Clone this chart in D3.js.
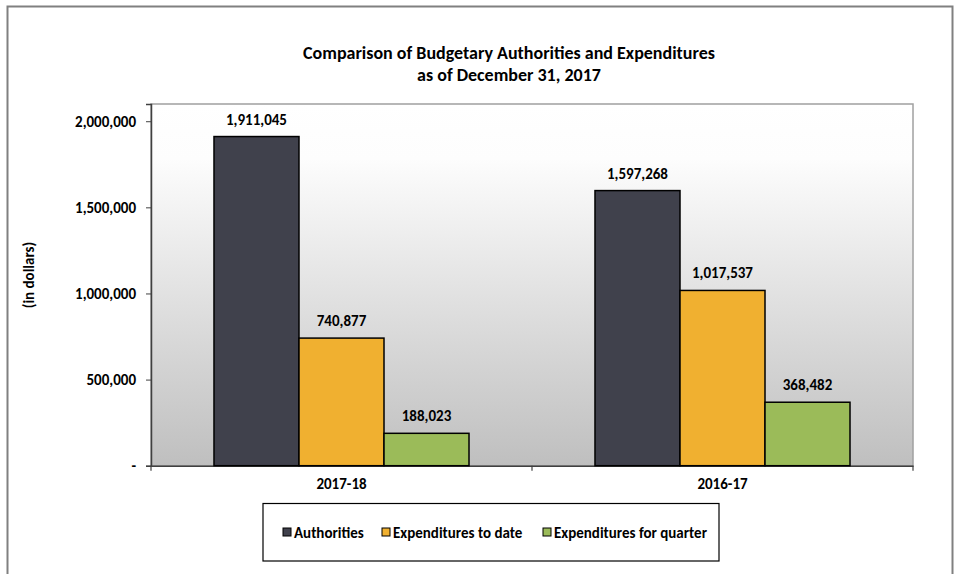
<!DOCTYPE html>
<html>
<head>
<meta charset="utf-8">
<script src="https://cdn.jsdelivr.net/npm/d3@7"></script>
<style>
  body { margin: 0; background: #fff; }
  text { font-family: Calibri, Carlito, Lato, "Liberation Sans", sans-serif; font-weight: bold; fill: #000; }
</style>
</head>
<body>
<div id="chart"></div>
<script>
// Данные графика
const categories = ['2017-18', '2016-17'];
const seriesNames = ['Authorities', 'Expenditures to date', 'Expenditures for quarter'];
const authorities = [1911045, 1597268];
const expendituresToDate = [740877, 1017537];
const expendituresForQuarter = [188023, 368482];
const yTicks = [0, 500000, 1000000, 1500000, 2000000];
const colors = ['#40414c', '#f0b030', '#9bbb59'];

const W = 963, H = 574;
const svg = d3.select('#chart').append('svg')
    .attr('width', W)
    .attr('height', H);

// Внешняя рамка
svg.append('rect')
    .attr('x', 7.5).attr('y', 6.5)
    .attr('width', 945).attr('height', 600)
    .attr('fill', 'none')
    .attr('stroke', '#808080')
    .attr('stroke-width', 2);

// Заголовок
svg.append('text')
    .attr('x', 509).attr('y', 59)
    .attr('text-anchor', 'middle')
    .attr('font-size', '18px')
    .text('Comparison of Budgetary Authorities and Expenditures');
svg.append('text')
    .attr('x', 509).attr('y', 81)
    .attr('text-anchor', 'middle')
    .attr('font-size', '18px')
    .text('as of December 31, 2017');

const plot = { left: 151, top: 104, right: 913, bottom: 465.7 };

const defs = svg.append('defs');
const grad = defs.append('linearGradient')
    .attr('id', 'bg')
    .attr('x1', 0).attr('y1', 0).attr('x2', 0).attr('y2', 1);
grad.append('stop').attr('offset', '0%').attr('stop-color', '#ffffff');
grad.append('stop').attr('offset', '15%').attr('stop-color', '#fdfdfd');
grad.append('stop').attr('offset', '100%').attr('stop-color', '#bfbfbf');

const y = d3.scaleLinear()
    .domain([0, 2100000])
    .range([plot.bottom, plot.top]);

const x0 = d3.scaleBand()
    .domain(categories)
    .range([plot.left, plot.right])
    .padding(0);

const x1 = d3.scaleBand()
    .domain(seriesNames)
    .range([0, x0.bandwidth()])
    .paddingInner(0)
    .paddingOuter(0.741);

// Фон области построения
svg.append('rect')
    .attr('x', plot.left).attr('y', plot.top)
    .attr('width', plot.right - plot.left)
    .attr('height', plot.bottom - plot.top)
    .attr('fill', 'url(#bg)')
    .attr('stroke', '#a0a0a0')
    .attr('stroke-width', 1.5);

// Ось Y
const yAxis = svg.append('g')
    .attr('transform', `translate(${plot.left},0)`)
    .call(d3.axisLeft(y)
        .tickValues(yTicks)
        .tickSize(5)
        .tickPadding(10)
        .tickFormat(d => d === 0 ? '-' : d3.format(',')(d)));
yAxis.select('.domain').attr('stroke', '#404040').attr('stroke-width', 1.5);
yAxis.selectAll('.tick line').attr('stroke', '#404040');
yAxis.selectAll('.tick text').attr('font-size', '15px').attr('fill', '#000');

svg.append('text')
    .attr('transform', 'translate(34,275) rotate(-90)')
    .attr('text-anchor', 'middle')
    .attr('font-size', '15px')
    .text('(in dollars)');

// Ось X
const xAxis = svg.append('g')
    .attr('transform', `translate(0,${plot.bottom})`)
    .call(d3.axisBottom(x0).tickSize(0).tickPadding(13));
xAxis.select('.domain').attr('stroke', '#404040').attr('stroke-width', 1.5);
xAxis.selectAll('.tick text').attr('font-size', '15px').attr('fill', '#000');

// Деления между категориями
const catEdges = [plot.left, plot.left + x0.bandwidth(), plot.right];
svg.append('g').selectAll('line')
    .data(catEdges)
    .enter().append('line')
    .attr('x1', d => d).attr('x2', d => d)
    .attr('y1', plot.bottom).attr('y2', plot.bottom + 5)
    .attr('stroke', '#404040')
    .attr('stroke-width', 1.2);

// Столбцы
const seriesValues = [authorities, expendituresToDate, expendituresForQuarter];
const barData = [];
categories.forEach((c, i) => {
    seriesNames.forEach((s, j) => {
        barData.push({ cat: c, series: s, value: seriesValues[j][i], color: colors[j] });
    });
});

svg.append('g').selectAll('rect')
    .data(barData)
    .enter().append('rect')
    .attr('x', d => x0(d.cat) + x1(d.series))
    .attr('y', d => y(d.value))
    .attr('width', x1.bandwidth())
    .attr('height', d => plot.bottom - y(d.value))
    .attr('fill', d => d.color)
    .attr('stroke', '#000')
    .attr('stroke-width', 1.5);

// Подписи значений
svg.append('g').selectAll('text')
    .data(barData)
    .enter().append('text')
    .attr('x', d => x0(d.cat) + x1(d.series) + x1.bandwidth() / 2)
    .attr('y', d => y(d.value) - 12)
    .attr('text-anchor', 'middle')
    .attr('font-size', '15px')
    .text(d => d3.format(',')(d.value));

// Легенда
const legend = svg.append('g');
legend.append('rect')
    .attr('x', 263).attr('y', 503.5)
    .attr('width', 456).attr('height', 57.5)
    .attr('fill', '#fff')
    .attr('stroke', '#000')
    .attr('stroke-width', 1.2);

const legendX = [283, 382, 543];
seriesNames.forEach((s, i) => {
    legend.append('rect')
        .attr('x', legendX[i]).attr('y', 528)
        .attr('width', 8).attr('height', 8)
        .attr('fill', colors[i])
        .attr('stroke', '#000')
        .attr('stroke-width', 1);
    legend.append('text')
        .attr('x', legendX[i] + 11).attr('y', 537.5)
        .attr('font-size', '15px')
        .text(s);
});
</script>
</body>
</html>
